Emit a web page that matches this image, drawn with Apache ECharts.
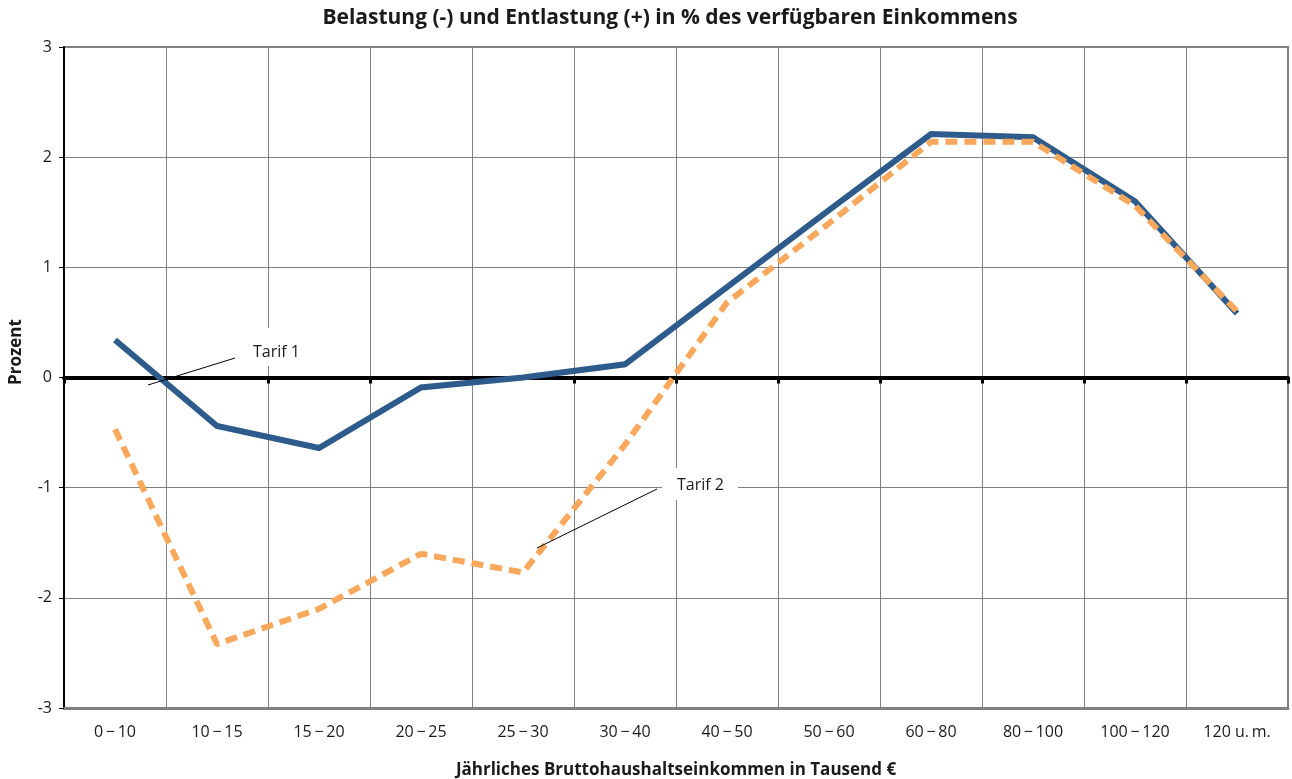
<!DOCTYPE html>
<html>
<head>
<meta charset="utf-8">
<script src="https://cdn.jsdelivr.net/npm/echarts@6/dist/echarts.min.js"></script>
<style>
  html, body { margin: 0; padding: 0; background: #fff; }
  #chart { width: 1292px; height: 779px; }
</style>
</head>
<body>
<div id="chart"></div>
<script>
// Income brackets (thousand € gross household income per year)
const DASH = '\u2009\u2212\u2009';
const categories = ['0' + DASH + '10', '10' + DASH + '15', '15' + DASH + '20', '20' + DASH + '25',
                    '25' + DASH + '30', '30' + DASH + '40', '40' + DASH + '50', '50' + DASH + '60',
                    '60' + DASH + '80', '80' + DASH + '100', '100' + DASH + '120', '120 u.\u2009m.'];

// Burden (-) / relief (+) in % of disposable income
const tarif1 = [0.34, -0.44, -0.64, -0.09, 0.00, 0.12, 0.82, 1.52, 2.21, 2.18, 1.60, 0.58];
const tarif2 = [-0.47, -2.42, -2.10, -1.60, -1.77, -0.61, 0.68, 1.40, 2.14, 2.14, 1.56, 0.60];

const yMin = -3, yMax = 3, yStep = 1;

const FONT = '"Open Sans", "Noto Sans", sans-serif';
const GRID_GRAY = '#808080';
const INK = '#1a1a1a';

const chart = echarts.init(document.getElementById('chart'), null, { renderer: 'canvas' });

chart.setOption({
  animation: false,
  backgroundColor: '#ffffff',
  grid: {
    left: 64, right: 4, top: 47, bottom: 71,
    outerBoundsMode: 'none',
    containLabel: false,
    show: true, borderColor: GRID_GRAY, borderWidth: 2
  },
  xAxis: [
    {
      type: 'category',
      data: categories,
      boundaryGap: true,
      position: 'bottom',
      axisLine: { onZero: false, lineStyle: { color: GRID_GRAY, width: 3 } },
      axisTick: { show: false },
      splitLine: { show: true, lineStyle: { color: GRID_GRAY, width: 1 } },
      axisLabel: { margin: 16, fontFamily: FONT, fontSize: 16, color: INK },
      name: 'Jährliches Bruttohaushaltseinkommen in Tausend €',
      nameLocation: 'middle',
      nameGap: 54,
      nameTextStyle: { fontFamily: FONT, fontSize: 17, fontWeight: 'bold', color: INK }
    },
    {
      // zero reference line with its boundary ticks
      type: 'category',
      data: categories,
      boundaryGap: true,
      position: 'bottom',
      axisLine: { onZero: true, lineStyle: { color: '#000', width: 4 } },
      axisTick: { show: true, length: 6, lineStyle: { color: '#000', width: 3 } },
      axisLabel: { show: false },
      splitLine: { show: false }
    }
  ],
  yAxis: {
    type: 'value',
    min: yMin, max: yMax, interval: yStep,
    axisLine: { show: true, onZero: false, lineStyle: { color: '#000', width: 2 } },
    axisTick: { show: true, length: 5, lineStyle: { color: '#000', width: 1 } },
    splitLine: { show: true, lineStyle: { color: GRID_GRAY, width: 1 } },
    axisLabel: { margin: 12, fontFamily: FONT, fontSize: 16, color: INK }
  },
  series: [
    {
      name: 'Tarif 1',
      type: 'line',
      data: tarif1,
      showSymbol: false,
      symbol: 'none',
      lineStyle: { color: '#2d5b8b', width: 6, join: 'miter', cap: 'butt' },
      z: 3
    },
    {
      name: 'Tarif 2',
      type: 'line',
      data: tarif2,
      showSymbol: false,
      symbol: 'none',
      lineStyle: { color: '#f8a85c', width: 6, type: [12, 7], cap: 'butt' },
      z: 4
    }
  ],
  graphic: [
    // chart title
    { type: 'text', z: 12, x: 670, y: 18,
      style: { text: 'Belastung (-) und Entlastung (+) in % des verfügbaren Einkommens',
               fontFamily: FONT, fontSize: 21, fontWeight: 'bold', fill: INK,
               align: 'center', verticalAlign: 'middle' } },
    // vertical axis title
    { type: 'text', z: 12, x: 16, y: 352, rotation: Math.PI / 2,
      style: { text: 'Prozent', fontFamily: FONT, fontSize: 17, fontWeight: 'bold', fill: INK,
               align: 'center', verticalAlign: 'middle' } },
    // Tarif 1 callout
    { type: 'rect', z: 10, shape: { x: 242, y: 328, width: 72, height: 38 }, style: { fill: '#fff' } },
    { type: 'line', z: 11, shape: { x1: 148, y1: 385, x2: 235, y2: 358 }, style: { stroke: '#000', lineWidth: 1 } },
    { type: 'text', z: 12, x: 253, y: 352,
      style: { text: 'Tarif 1', fontFamily: FONT, fontSize: 16, fill: INK, verticalAlign: 'middle' } },
    // Tarif 2 callout
    { type: 'rect', z: 10, shape: { x: 662, y: 468, width: 76, height: 32 }, style: { fill: '#fff' } },
    { type: 'line', z: 11, shape: { x1: 537, y1: 548, x2: 657, y2: 489 }, style: { stroke: '#000', lineWidth: 1 } },
    { type: 'text', z: 12, x: 677, y: 485,
      style: { text: 'Tarif 2', fontFamily: FONT, fontSize: 16, fill: INK, verticalAlign: 'middle' } }
  ]
});
</script>
</body>
</html>
